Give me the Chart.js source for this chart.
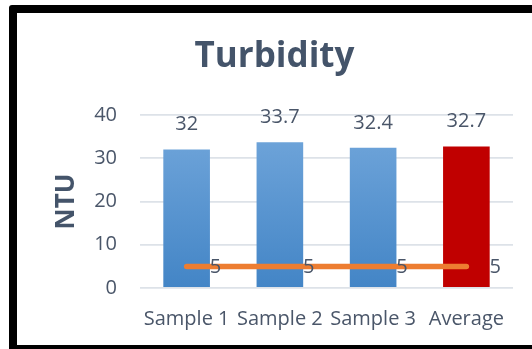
<!DOCTYPE html>
<html>
<head>
<meta charset="utf-8">
<script src="https://cdn.jsdelivr.net/npm/chart.js@4.4.0/dist/chart.umd.min.js"></script>
<style>
  html, body { margin: 0; padding: 0; background: #fff; overflow: hidden; }
  body { width: 532px; height: 349px; position: relative; }
  .frame {
    position: absolute; left: 9px; top: 5px; width: 600px; height: 348px;
    box-sizing: border-box; border: 8px solid #000; border-top-left-radius: 3px; background: #fff;
  }
  .wrap { position: absolute; left: 17px; top: 13px; width: 515px; height: 332px; }
</style>
</head>
<body>
<div class="frame"></div>
<div class="wrap"><canvas id="chart"></canvas></div>
<script>
// --- data ---
const categories = ['Sample 1', 'Sample 2', 'Sample 3', 'Average'];
const turbidity = [32, 33.7, 32.4, 32.7];
const limit = [5, 5, 5, 5];
const yTicks = [0, 10, 20, 30, 40];

const TEXT = '#4a5669';
const FONT = "'Open Sans', 'Noto Sans', sans-serif";

// blue gradient for the sample bars, solid red for the average
function barColor(c) {
  if (c.dataIndex === categories.length - 1) return '#C00000';
  const area = c.chart.chartArea;
  if (!area) return '#5b9bd5';
  const g = c.chart.ctx.createLinearGradient(0, area.top, 0, area.bottom);
  g.addColorStop(0, '#74a8dc');
  g.addColorStop(1, '#4385c6');
  return g;
}

// value labels: above the bars, to the right of the line points
const valueLabels = {
  id: 'valueLabels',
  afterDatasetsDraw(chart) {
    const ctx = chart.ctx;
    ctx.save();
    ctx.font = '20px ' + FONT;
    ctx.fillStyle = TEXT;
    ctx.textBaseline = 'middle';
    chart.data.datasets.forEach((ds, i) => {
      const meta = chart.getDatasetMeta(i);
      meta.data.forEach((el, j) => {
        if (ds.type === 'bar') {
          ctx.textAlign = 'center';
          ctx.fillText(String(ds.data[j]), el.x, el.y - 25);
        } else {
          ctx.textAlign = 'left';
          ctx.fillText(String(ds.data[j]), el.x + 23, el.y + 1);
        }
      });
    });
    ctx.restore();
  }
};

new Chart(document.getElementById('chart'), {
  data: {
    labels: categories,
    datasets: [
      {
        type: 'line',
        data: limit,
        borderColor: '#ED7D31',
        borderWidth: 5.5,
        borderCapStyle: 'round',
        pointRadius: 0,
        order: 0
      },
      {
        type: 'bar',
        data: turbidity,
        backgroundColor: barColor,
        barPercentage: 0.5,
        categoryPercentage: 1,
        order: 1
      }
    ]
  },
  options: {
    responsive: true,
    maintainAspectRatio: false,
    animation: false,
    layout: { padding: 0 },
    plugins: {
      legend: { display: false },
      tooltip: { enabled: false },
      title: {
        display: true,
        text: 'Turbidity',
        color: '#44546A',
        font: { family: FONT, size: 35, weight: 'bold', lineHeight: 1.2 },
        padding: { top: 23, bottom: 37 }
      }
    },
    scales: {
      x: {
        grid: { display: false },
        border: { display: false },
        ticks: {
          color: TEXT, font: { family: FONT, size: 20 },
          padding: 11, maxRotation: 0, autoSkip: false
        },
        afterFit: s => { s.height = 57; }
      },
      y: {
        min: 0, max: 40,
        afterBuildTicks: s => { s.ticks = yTicks.map(v => ({ value: v })); },
        grid: { color: '#dde2e8', lineWidth: 1.8, drawTicks: false },
        border: { display: false },
        ticks: { color: TEXT, font: { family: FONT, size: 20 }, padding: 23 },
        title: {
          display: true, text: 'NTU', color: '#44546A',
          font: { family: FONT, size: 26, weight: 'bold', lineHeight: 1.2 },
          padding: { top: 34, bottom: 0 }
        },
        afterFit: s => { s.width = 123; }
      },
      yr: {
        position: 'right',
        grid: { display: false },
        border: { display: false },
        ticks: { display: false },
        afterFit: s => { s.width = 19; }
      }
    }
  },
  plugins: [valueLabels]
});
</script>
</body>
</html>
